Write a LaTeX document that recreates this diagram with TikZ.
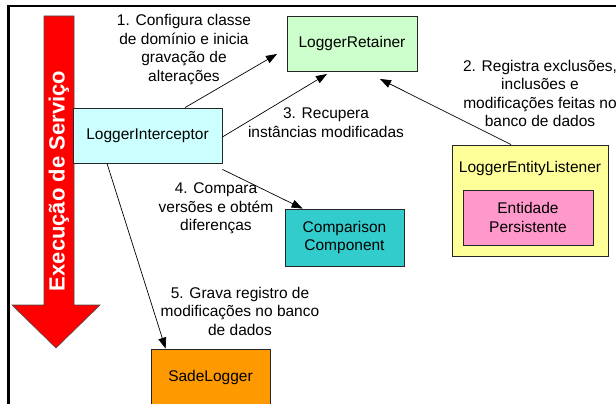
\documentclass[tikz,border=0pt]{standalone}
\usepackage{fontspec}
\setmainfont{Liberation Sans}
\usetikzlibrary{arrows.meta}
\definecolor{liCol}{HTML}{CCFFFF}
\definecolor{lrCol}{HTML}{CCFFCC}
\definecolor{lelCol}{HTML}{FFFF99}
\definecolor{epCol}{HTML}{FF99CC}
\definecolor{ccCol}{HTML}{33CCCC}
\definecolor{slCol}{HTML}{FF9900}
\definecolor{redCol}{HTML}{FF0000}
\begin{document}
\begin{tikzpicture}[x=1pt,y=-1pt,
  box/.style={draw=black!85, line width=0.8pt, font=\fontsize{15.5}{18.5}\selectfont, align=center, inner sep=0pt},
  lbl/.style={font=\fontsize{15.5}{18.5}\selectfont, align=center, inner sep=0pt},
  conn/.style={line width=0.7pt, -{Triangle[length=11pt,width=8pt]}}]
\useasboundingbox (0,0) rectangle (616,404);
% frame
\draw[line width=2.5pt] (8.5,410) -- (8.5,6) -- (620,6);
% execution arrow
\draw[fill=redCol, draw=black!70, line width=0.6pt] (44,16) -- (74,16) -- (74,305) -- (100,305) -- (56,348) -- (12,305) -- (44,305) -- cycle;
\node[rotate=90, text=white, font=\fontsize{22}{22}\bfseries\selectfont, inner sep=0pt] (exec) at (59,181) {Execução de Serviço};
% boxes
\node[box, fill=liCol, minimum width=149pt, minimum height=55pt] (li) at (147.5,135.5) {LoggerInterceptor};
\node[box, fill=lrCol, minimum width=130pt, minimum height=55pt] (lr) at (352,43.5) {LoggerRetainer};
\node[box, fill=lelCol, minimum width=156pt, minimum height=111pt] (lel) at (530,200.5) {};
\node[lbl] (lelt) at (530,168) {LoggerEntityListener};
\node[box, fill=epCol, minimum width=130pt, minimum height=55pt] (ep) at (528,217.5) {Entidade\\Persistente};
\node[box, fill=ccCol, minimum width=119pt, minimum height=57pt] (cc) at (344.5,237.5) {Comparison\\Component};
\node[box, fill=slCol, minimum width=119pt, minimum height=57pt] (sl) at (210.5,377.5) {SadeLogger};
% free ends
\coordinate (e1) at (277,54);
\coordinate (e3) at (327,74);
\coordinate (e2) at (380,79);
% connectors
\draw[conn] ([xshift=37.5pt]li.north) -- (e1);
\draw[conn] ([yshift=-1.5pt]li.east) -- (e3);
\draw[conn] ([xshift=-19pt]lel.north) -- (e2);
\draw[conn] ([yshift=-6pt]li.south east) -- ([xshift=18pt]cc.north west);
\draw[conn] ([xshift=-40.5pt]li.south) -- ([xshift=15pt]sl.north west);
% labels
\node[lbl] (l1) at (184,49.5) {1. Configura classe\\de domínio e inicia\\gravação de\\alterações};
\node[lbl] (l2) at (540,93.5) {2. Registra exclusões,\\inclusões e\\modificações feitas no\\banco de dados};
\node[lbl] (l3) at (326,122.5) {3. Recupera\\instâncias modificadas};
\node[lbl] (l4) at (216,208.5) {4. Compara\\versões e obtém\\diferenças};
\node[lbl] (l5) at (240,311) {5. Grava registro de\\modificações no banco\\de dados};
\end{tikzpicture}
\end{document}
